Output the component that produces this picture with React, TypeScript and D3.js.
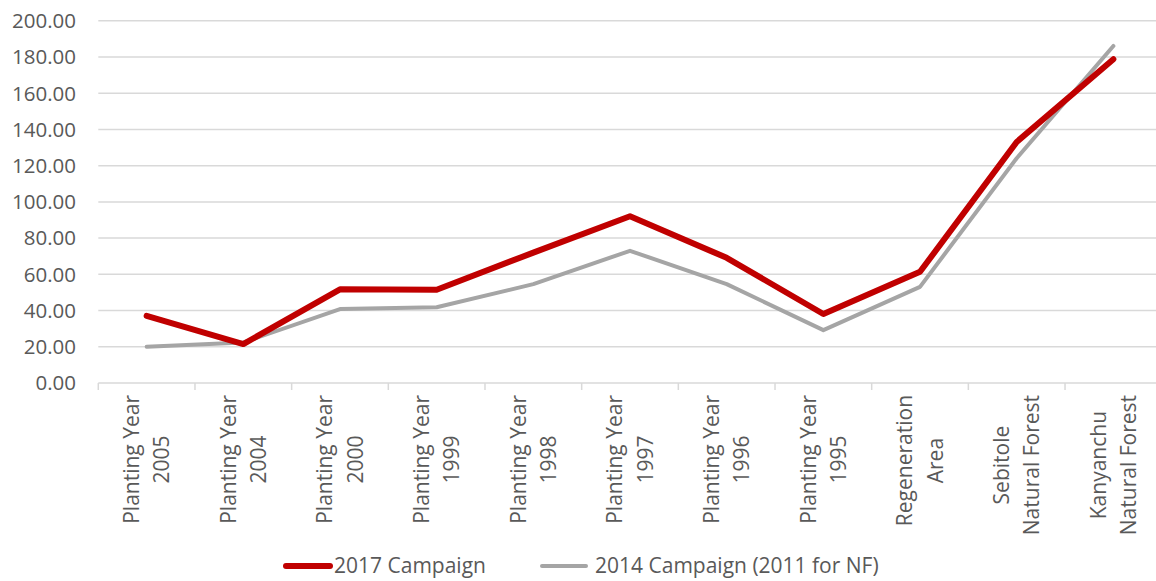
import React from "react";
import * as d3 from "d3";

const categories: string[][] = [
  ["Planting Year", "2005"],
  ["Planting Year", "2004"],
  ["Planting Year", "2000"],
  ["Planting Year", "1999"],
  ["Planting Year", "1998"],
  ["Planting Year", "1997"],
  ["Planting Year", "1996"],
  ["Planting Year", "1995"],
  ["Regeneration", "Area"],
  ["Sebitole", "Natural Forest"],
  ["Kanyanchu", "Natural Forest"],
];
const series2017: number[] = [37.1, 21.5, 51.7, 51.5, 72.0, 92.1, 69.1, 38.1, 61.4, 133.1, 178.8];
const series2014: number[] = [20.0, 22.4, 40.8, 41.8, 54.6, 73.0, 54.6, 29.2, 53.1, 124.1, 186.1];
const yTicks: number[] = [0, 20, 40, 60, 80, 100, 120, 140, 160, 180, 200];
const seriesNames: string[] = ["2017 Campaign", "2014 Campaign (2011 for NF)"];

const W = 1156;
const H = 581;
const FONT = "'Open Sans', sans-serif";
const FS = 20.5;
const FSX = 21;
const TXT = "#595959";
const GRID = "#D9D9D9";
const RED = "#C00000";
const GRAY = "#A5A5A5";

function measure(s: string): number {
  if (typeof document === "undefined") return s.length * 10;
  const c = document.createElement("canvas");
  const ctx = c.getContext("2d");
  if (!ctx) return s.length * 10;
  ctx.font = `${FSX}px 'Open Sans'`;
  return ctx.measureText(s).width;
}

export default function App() {
  const keys = categories.map((c) => c.join(" "));
  const x = d3.scaleBand<string>().domain(keys).range([98.3, 1161.7]).padding(0);
  const y = d3.scaleLinear().domain([0, 200]).range([383, 20.8]);
  const cx = (i: number) => (x(keys[i]) as number) + x.bandwidth() / 2;

  const line = d3
    .line<number>()
    .x((_, i) => cx(i))
    .y((d) => y(d));

  const boundaries = keys.map((k) => x(k) as number).concat([x.range()[1]]);
  const labelTop = 395;

  return (
    <svg
      width={W}
      height={H}
      style={{ position: "absolute", left: 0, top: 0, background: "#fff" }}
      fontFamily={FONT}
    >
      {yTicks.map((t) =>
        t === 0 ? null : (
          <line key={t} x1={x.range()[0]} x2={x.range()[1]} y1={y(t)} y2={y(t)} stroke={GRID} strokeWidth={1.5} />
        )
      )}
      <line x1={x.range()[0]} x2={x.range()[1]} y1={y(0)} y2={y(0)} stroke={GRID} strokeWidth={1.5} />
      {boundaries.map((b, i) => (
        <line key={i} x1={b} x2={b} y1={y(0)} y2={y(0) + 7} stroke={GRID} strokeWidth={1.5} />
      ))}
      {yTicks.map((t) => (
        <text key={t} x={76} y={y(t) + 7.3} textAnchor="end" fontSize={FS} fill={TXT}>
          {t.toFixed(2)}
        </text>
      ))}
      {categories.map((lines, i) => {
        const L = Math.max(...lines.map(measure));
        const n = lines.length;
        const cap = 15;
        const spacing = 30.5;
        const b1 = cx(i) - (cap + spacing * (n - 1)) / 2 + cap;
        return (
          <g key={i}>
            {lines.map((ln, j) => (
              <text
                key={j}
                transform={`translate(${b1 + j * spacing},${labelTop + L / 2}) rotate(-90)`}
                textAnchor="middle"
                fontSize={FSX}
                fill={TXT}
              >
                {ln}
              </text>
            ))}
          </g>
        );
      })}
      <path d={line(series2014) || ""} fill="none" stroke={GRAY} strokeWidth={4} strokeLinejoin="round" strokeLinecap="round" />
      <path d={line(series2017) || ""} fill="none" stroke={RED} strokeWidth={6} strokeLinejoin="round" strokeLinecap="round" />
      <g>
        <line x1={286} x2={330} y1={566} y2={566} stroke={RED} strokeWidth={6} strokeLinecap="round" />
        <text x={334} y={573} fontSize={FSX} fill={TXT}>{seriesNames[0]}</text>
        <line x1={542} x2={586} y1={566} y2={566} stroke={GRAY} strokeWidth={4} strokeLinecap="round" />
        <text x={595} y={573} fontSize={FSX} fill={TXT}>{seriesNames[1]}</text>
      </g>
    </svg>
  );
}
